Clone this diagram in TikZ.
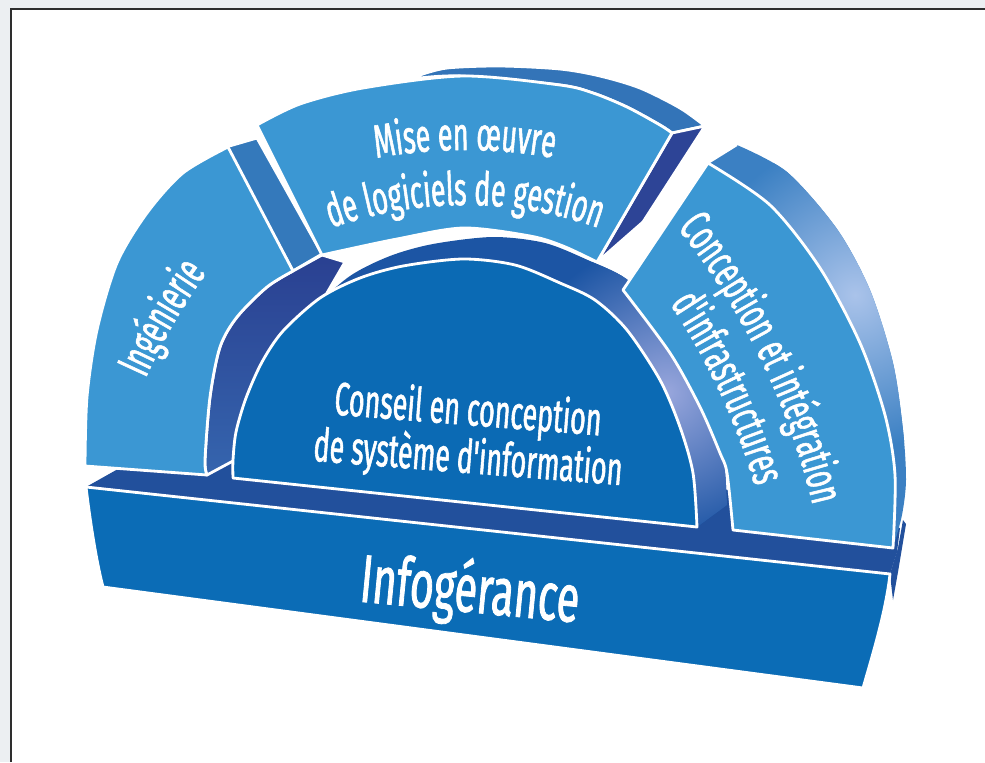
\documentclass[tikz,border=0pt]{standalone}
\usepackage{fontspec}
\newfontfamily\cfA[FakeStretch=0.575,FakeBold=1.2]{Fira Sans}
\newfontfamily\cfB[FakeStretch=0.61,FakeBold=1.2]{Fira Sans}
\usetikzlibrary{decorations.text}
\definecolor{lightface}{HTML}{3B97D3}
\definecolor{conseilc}{HTML}{0B6AB4}
\definecolor{slabfront}{HTML}{0B6CB6}
\definecolor{slabtop}{HTML}{22509C}
\definecolor{sideface}{HTML}{2D4496}
\definecolor{innertop}{HTML}{2A4091}
\definecolor{innerbot}{HTML}{3565AE}
\definecolor{stripc}{HTML}{3479BB}
\definecolor{mtop}{HTML}{3374B8}
\definecolor{bandc}{HTML}{1C55A4}
\definecolor{lavc}{HTML}{98A6DC}
\definecolor{cbandc}{HTML}{3B80C3}
\definecolor{cbandlight}{HTML}{AAC3EA}
\definecolor{bggrey}{HTML}{ECEFF2}
\definecolor{framec}{HTML}{2E2E2E}
\newcommand\tfA{\cfA\fontsize{26.5pt}{30pt}\selectfont}
\newcommand\tfB{\cfB\fontsize{38.5pt}{44pt}\selectfont}
\begin{document}
\begin{tikzpicture}[x=0.02cm,y=-0.02cm,
  face/.style={draw=white,line width=1.6pt,line join=round},
  txt/.style={text=white,inner sep=0pt,font=\tfA},
  arctext/.style={decorate,decoration={text along path,text align=center,text color=white,text={|\tfA|#1}}}]
\useasboundingbox (0,0) rectangle (985,762);
% background and frame
\fill[bggrey] (0,0) rectangle (985,762);
\fill[white] (11,9) rectangle (985,762);
\draw[framec,line width=0.8pt] (11,762) -- (11,9) -- (985,9);

% slab top and right sliver
\fill[slabtop] (86,487) -- (118,469) -- (205,470) -- (230,455) -- (730,490) -- (900,528) -- (897,552) -- (890,574) -- cycle;
\fill[slabtop] (890,574) -- (898,548) -- (903,520) -- (906,524) -- (898,572) -- (893,600) -- cycle;
% slab front
\path[face,fill=slabfront] (86,487) -- (890,574) .. controls (886,610) and (874,650) .. (863,688) -- (103,587) .. controls (96,560) and (90,520) .. cycle;

% conception outer band
\begin{scope}
\clip (708,163) -- plot[smooth] coordinates {(737,145)(787,172)(837,229)(870,290)(893,363)(903,430)(906,480)(902,515)(893,548)} -- plot[smooth] coordinates {(893,548)(895,475)(885,415)(860,343)(820,268)(770,205)(708,163)} -- cycle;
\fill[cbandc] (690,130) rectangle (920,560);
\shade[inner color=cbandlight,outer color=cbandc] (855,295) circle (155);
\end{scope}
\draw[white,line width=1.2pt,line join=round] (708,163) -- (737,145);

% mise top band and side face
\path[face,fill=mtop] plot[smooth] coordinates {(420,78)(463,76)(560,85)(593,93)(627,107)(660,125)(672,133)} -- (705,126) -- plot[smooth] coordinates {(705,126)(680,108)(640,88)(600,76)(560,69)(500,66)(447,68)(420,75)} -- cycle;
\path[face,fill=sideface] (672,133) -- (705,126) -- (643,222) -- (603,257) -- (597,262) -- cycle;

% ingenierie end strip
\path[face,fill=stripc] (226,147) -- (257,138) -- (322,254) -- (293,271) -- cycle;

% ingenierie inner face
\shadedraw[draw=white,line width=1.6pt,line join=round,top color=innertop,bottom color=innerbot]
  plot[smooth] coordinates {(207,475)(205,460)(210,397)(220,347)(237,317)(267,287)(293,271)} -- (322,255) -- (345,262) -- (320,305) -- (276,360) -- (255,400) -- (245,440) -- (233,461) -- cycle;

% conseil extrusion band
\begin{scope}
\clip plot[smooth] coordinates {(233,478)(233,460)(236,432)(246,398)(262,362)(283,331)(320,298)(360,278)(403,266)(463,259)(515,265)(560,283)(595,300)(627,330)(660,380)(680,427)(693,473)(697,527)} -- plot[smooth] coordinates {(727,505)(723,451)(710,405)(690,358)(657,308)(625,278)(590,261)(545,243)(493,237)(433,244)(390,256)(350,276)(313,309)(292,340)(276,376)(266,410)(263,438)(263,456)} -- cycle;
\fill[bandc] (200,200) rectangle (760,560);
\shade[inner color=lavc,outer color=bandc] (667,392) circle (150);
\end{scope}

% conseil front face
\path[face,fill=conseilc] plot[smooth] coordinates {(233,478)(233,460)(236,432)(246,398)(262,362)(283,331)(320,298)(360,278)(403,266)(463,259)(515,265)(560,283)(595,300)(627,330)(660,380)(680,427)(693,473)(697,527)} -- cycle;

% mise front face
\path[face,fill=lightface] plot[smooth] coordinates {(257,125)(300,104)(363,88)(463,76)(560,85)(593,93)(627,107)(660,125)(672,133)} -- (597,262) -- plot[smooth] coordinates {(597,262)(563,246)(530,236)(463,228)(397,239)(340,251)(322,255)} -- cycle;

% ingenierie front face
\path[face,fill=lightface] plot[smooth] coordinates {(85,466)(87,397)(97,330)(117,263)(147,213)(183,173)(228,147)} -- (293,271) -- plot[smooth] coordinates {(293,271)(267,287)(237,317)(220,347)(210,397)(205,460)(207,475)} -- cycle;

% conception front face
\path[face,fill=lightface] plot[smooth] coordinates {(708,163)(770,205)(820,268)(860,343)(885,415)(895,475)(893,548)} -- (733,530) -- plot[smooth] coordinates {(733,530)(727,473)(720,453)(700,407)(670,353)(623,290)} -- cycle;

% texts
\path[arctext={Mise en œuvre}] plot[domain=115:65,samples=60] ({465+500*cos(\x)},{650-500*sin(\x)});
\path[arctext={de logiciels de gestion}] plot[domain=120:60,samples=60] ({465+400*cos(\x)},{605-400*sin(\x)});
\path[arctext={Ingénierie}] plot[domain=172:128,samples=60] ({693+600*cos(\x)},{624-600*sin(\x)});
\path[arctext={Conception et intégration}] plot[domain=50:2,samples=60] ({125+707*cos(\x)},{669-707*sin(\x)});
\path[arctext={d'infrastructures}] plot[domain=48:2,samples=60] ({125+656*cos(\x)},{669-656*sin(\x)});
\node[txt,rotate=-4.5,anchor=base] (cons1) at (467,425) {Conseil en conception};
\node[txt,rotate=-4.5,anchor=base] (cons2) at (467,473) {de système d'information};
\node[txt,font=\tfB,rotate=-5.5,anchor=base] (info) at (468,612) {Infogérance};
\end{tikzpicture}
\end{document}
